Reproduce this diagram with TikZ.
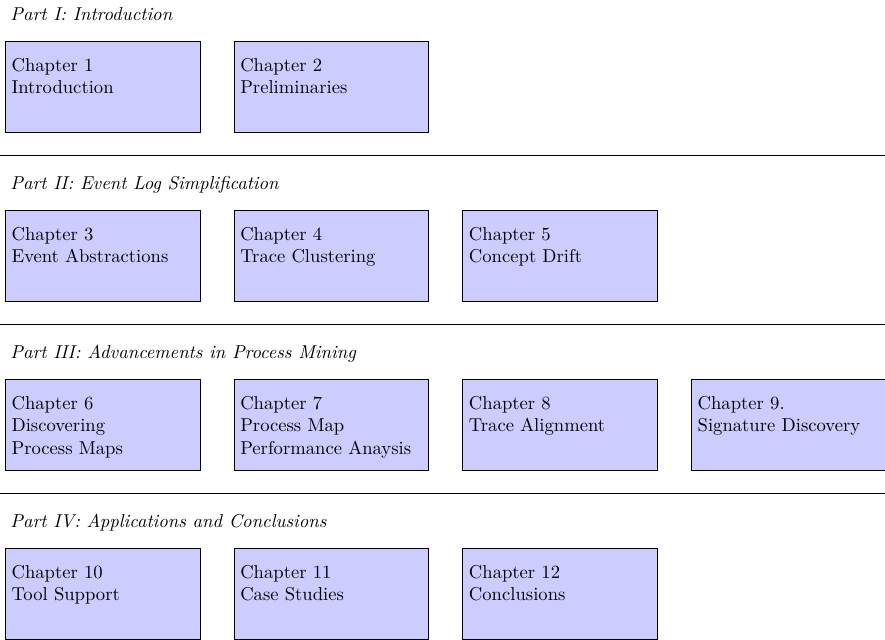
\documentclass[tikz,border=0pt]{standalone}
% chapter text, top-aligned inside a fixed-size box
\newcommand\chaptext[1]{\parbox[c][49.27pt][t]{97.74pt}{\raggedright\rule{0pt}{16.3pt}#1}}
\begin{document}
\begin{tikzpicture}[x=1pt,y=1pt,
  partlabel/.style={anchor=base west, inner sep=0pt, font=\itshape},
  chapbox/.style={draw, fill=blue!20, anchor=north west, inner xsep=3.33pt,
    inner ysep=0pt, minimum width=104.4pt, minimum height=49.27pt},
  partrule/.style={thick}]
\useasboundingbox (0,0) rectangle (475,-343);

% Part I
\node[partlabel] (p1) at (5.4,-10.8) {Part I: Introduction};
\node[chapbox] (c1) at (2.68,-21.84) {\chaptext{Chapter 1\\Introduction}};
\node[chapbox] (c2) at (125.43,-21.84) {\chaptext{Chapter 2\\Preliminaries}};
\coordinate (s1l) at (0,-83.35);
\coordinate (s1r) at (475,-83.35);
\draw[partrule] (s1l) -- (s1r);

% Part II
\node[partlabel] (p2) at (5.4,-101.5) {Part II: Event Log Simplification};
\node[chapbox] (c3) at (2.68,-112.54) {\chaptext{Chapter 3\\Event Abstractions}};
\node[chapbox] (c4) at (125.43,-112.54) {\chaptext{Chapter 4\\Trace Clustering}};
\node[chapbox] (c5) at (248.18,-112.54) {\chaptext{Chapter 5\\Concept Drift}};
\coordinate (s2l) at (0,-174.05);
\coordinate (s2r) at (475,-174.05);
\draw[partrule] (s2l) -- (s2r);

% Part III
\node[partlabel] (p3) at (5.4,-192.2) {Part III: Advancements in Process Mining};
\node[chapbox] (c6) at (2.68,-203.24) {\chaptext{Chapter 6\\Discovering\\Process Maps}};
\node[chapbox] (c7) at (125.43,-203.24) {\chaptext{Chapter 7\\Process Map\\Performance Anaysis}};
\node[chapbox] (c8) at (248.18,-203.24) {\chaptext{Chapter 8\\Trace Alignment}};
\node[chapbox] (c9) at (370.93,-203.24) {\chaptext{Chapter 9.\\Signature Discovery}};
\coordinate (s3l) at (0,-264.75);
\coordinate (s3r) at (475,-264.75);
\draw[partrule] (s3l) -- (s3r);

% Part IV
\node[partlabel] (p4) at (5.4,-282.9) {Part IV: Applications and Conclusions};
\node[chapbox] (c10) at (2.68,-293.94) {\chaptext{Chapter 10\\Tool Support}};
\node[chapbox] (c11) at (125.43,-293.94) {\chaptext{Chapter 11\\Case Studies}};
\node[chapbox] (c12) at (248.18,-293.94) {\chaptext{Chapter 12\\Conclusions}};
\end{tikzpicture}
\end{document}
